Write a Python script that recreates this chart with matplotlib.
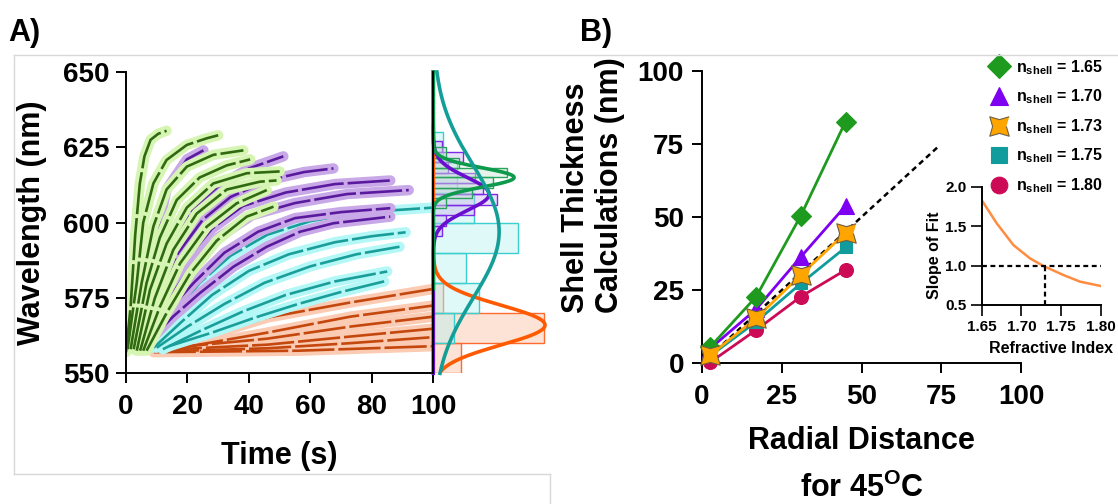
import numpy as np
import matplotlib.pyplot as plt
from matplotlib.lines import Line2D
from matplotlib.path import Path

plt.rcParams['font.family'] = ['Liberation Sans', 'DejaVu Sans']
plt.rcParams['font.weight'] = 'bold'
plt.rcParams['axes.labelweight'] = 'bold'
plt.rcParams['mathtext.fontset'] = 'custom'
plt.rcParams['mathtext.rm'] = 'Liberation Sans:bold'
plt.rcParams['mathtext.bf'] = 'Liberation Sans:bold'
plt.rcParams['mathtext.it'] = 'Liberation Sans:bold'
plt.rcParams['axes.linewidth'] = 1.4

# --- panel A: peak wavelength vs time, one list per trace ---
green_t = [[0, 1.5, 3, 4.5, 6, 8, 10.5, 13.2],
           [0.5, 3.5, 5.6, 8.9, 13.2, 19.8, 26.3, 30],
           [1.5, 5.1, 8.9, 13.2, 19.8, 28.4, 38.2],
           [2.5, 6.7, 11, 16.5, 24, 32.8, 40.4],
           [3.5, 7.8, 13.2, 19.8, 28.4, 39.3, 50],
           [4.6, 9.4, 15.4, 23, 32.8, 43.6, 49],
           [5.6, 11, 17.6, 26.3, 36, 45.8],
           [6.7, 13.2, 20.8, 29.5, 39.3, 48]]
green_nm = [[557, 572, 596, 613, 622, 627.5, 629.5, 630.5],
            [558, 580, 600, 613, 620.8, 625.8, 628, 629],
            [558, 580, 598.7, 611, 618.6, 622.5, 624],
            [558, 580, 595, 607.5, 615, 619, 621],
            [557.5, 577.7, 593, 605, 613, 616.4, 617],
            [557.5, 575, 591, 603, 611, 613.6, 614],
            [557.5, 572, 586.5, 598.7, 606.4, 610.8],
            [557.5, 570, 583, 594, 602, 605.3]]

purple_t = [[4.6, 8.9, 13.2, 19.8, 25.2],
            [5, 10, 15, 22, 30, 40, 51.2],
            [5.5, 11, 17, 25, 34, 46, 58, 67.5],
            [6, 12, 19, 28, 38, 52, 68, 86],
            [6.5, 13, 20, 30, 41, 55, 72, 92],
            [7, 14, 22, 32, 43, 55, 70, 86],
            [7.8, 15.4, 24, 35, 45.8, 56.7, 67.5, 86]]
purple_nm = [[560, 591, 611, 621, 624],
             [561, 580, 594, 605, 612, 618, 622],
             [561, 577, 590, 601, 608.5, 614, 616.8, 618],
             [561, 575, 587, 598, 605.5, 610, 612.8, 614],
             [561, 573, 584, 595, 602.5, 606.5, 609.5, 610.8],
             [561, 571, 580, 590, 597, 601.5, 603.5, 604.8],
             [561, 568.9, 576.6, 585.4, 592, 597, 599.8, 602]]

cyan_t = [[8, 15, 24, 34, 46, 60, 78, 100],
          [9, 18, 28, 40, 53, 68, 80, 91],
          [10, 20, 32, 45, 60, 75, 89],
          [12, 24, 38, 52, 68, 85],
          [14, 28, 42, 56, 70, 84]]
cyan_nm = [[559, 569, 580, 589, 596, 600.5, 603.5, 605],
           [558.5, 567, 576, 584, 589.5, 593.5, 595.5, 596.8],
           [558.5, 565.5, 573, 580, 585.5, 589.5, 592],
           [558, 564, 570.5, 576, 580.5, 583.8],
           [559, 563.5, 568.5, 573, 577, 580.5]]

orange_t = [[16, 30, 46, 73, 100],
            [18, 46, 73, 100],
            [13, 46, 73, 100],
            [11, 46, 73, 100],
            [10, 46, 73, 100],
            [9, 56, 100]]
orange_nm = [[559, 563.5, 568.5, 573.5, 578],
             [558.5, 563.5, 568.8, 572.5],
             [558.3, 561.5, 565.5, 568.8],
             [557.7, 559.5, 562.2, 564.8],
             [557.2, 558.3, 560, 562],
             [557, 557.5, 559]]

# side histograms of final wavelength
teal_edges = [560, 570, 580, 590, 600, 610, 620, 630]
teal_freq = [21, 46, 33, 85, 41, 24, 10]
orange_edges = [550, 560, 570, 580]
orange_freq = [28, 111, 10]
purple_edges = [595.5, 599, 602.5, 606, 609.5, 613, 616.5, 620, 623.5, 627]
purple_freq = [9, 13, 41, 64, 50, 42, 15, 30, 9]
green_edges = [605, 608.3, 611.6, 615, 618.3, 621.6, 625]
green_freq = [13, 39, 60, 74, 26, 13]

# gaussian fits to the histograms: centre, width, height, drawn range
fit_names = ['purple', 'orange', 'green', 'teal']
fit_mu = [609.5, 566, 615, 597]
fit_sd = [5.5, 6.6, 3.2, 22]
fit_peak = [56, 112, 81, 66]
fit_lo = [550, 551, 578, 550]
fit_hi = [650, 632, 650, 650]

# --- panel B: shell thickness vs radial distance ---
radial = [2.5, 17, 31, 45]
thick_165 = [5.5, 22.8, 50.5, 82.6]
thick_170 = [5.0, 18.5, 36.4, 53.8]
thick_173 = [2.8, 15.4, 30.2, 44.6]
thick_175 = [2.5, 14.2, 27.3, 39.6]
thick_180 = [0.3, 11.4, 22.8, 31.9]
ref_x = [0, 74]
ref_y = [0, 74]

# inset: slope of the fit vs shell refractive index
ref_index = [1.65, 1.669, 1.69, 1.711, 1.728, 1.753, 1.774, 1.80]
fit_slope = [1.83, 1.535, 1.26, 1.09, 0.994, 0.88, 0.796, 0.741]
best_index = 1.73
unit_slope = 1.0

W, H = 1118, 504
fig = plt.figure(figsize=(W / 100, H / 100), dpi=100)

def box(x0, y0, x1, y1):
    # pixel box (top-left / bottom-right) -> figure fraction rect
    return [x0 / W, 1 - y1 / H, (x1 - x0) / W, (y1 - y0) / H]

# light frame lines around panel A
for xs, ys in [([14, W], [55, 55]), ([14, 14], [55, 474]),
               ([14, 550], [474, 474]), ([550, 550], [474, H])]:
    fig.add_artist(Line2D([x / W for x in xs], [1 - y / H for y in ys],
                          color='#d8d8d8', lw=1.0))

# ---------------- panel A ----------------
axA = fig.add_axes(box(126, 72, 433.3, 373.3))
families = [(orange_t, orange_nm, '#fbcbb3', '#c4470e'),
            (cyan_t, cyan_nm, '#b3f7f7', '#1a9e99'),
            (purple_t, purple_nm, '#c9a8e8', '#5a1a9e'),
            (green_t, green_nm, '#d6f5b3', '#2f6a10')]
for ts, nms, halo, dark in families:
    for t, nm in zip(ts, nms):
        axA.plot(t, nm, color=halo, lw=7.5, solid_capstyle='round',
                 solid_joinstyle='round')
    for t, nm in zip(ts, nms):
        axA.plot(t, nm, color=dark, lw=1.9, ls=(0, (16, 1.5)))
axA.set_xlim(0, 100)
axA.set_ylim(550, 650)
axA.set_xticks([0, 20, 40, 60, 80, 100])
axA.set_yticks([550, 575, 600, 625, 650])
axA.spines[['top', 'right']].set_visible(False)
axA.tick_params(direction='out', length=7, width=1.4, labelsize=20)
axA.tick_params(axis='x', pad=8)
axA.tick_params(axis='y', pad=5)
axA.set_xlabel('Time (s)', fontsize=22)
axA.xaxis.label.set_va('center')
axA.xaxis.set_label_coords(0.5, -0.275)
axA.set_ylabel('Wavelength (nm)', fontsize=22)
axA.yaxis.label.set_va('center')
axA.yaxis.set_label_coords(-0.307, 0.5)

# side histogram
axH = fig.add_axes(box(433.3, 72, 551, 373.3))
axH.patch.set_alpha(0)
axH.barh(orange_edges[:-1], orange_freq, height=np.diff(orange_edges), align='edge',
         facecolor=(0.99, 0.80, 0.70, 0.55), edgecolor='#ff6a30', lw=1.0)
axH.plot(fit_peak[1] * np.exp(-0.5 * ((np.linspace(fit_lo[1], fit_hi[1], 300) - fit_mu[1]) / fit_sd[1]) ** 2),
         np.linspace(fit_lo[1], fit_hi[1], 300), color='#ff5a00', lw=2.6, clip_on=False)
axH.barh(teal_edges[:-1], teal_freq, height=np.diff(teal_edges), align='edge',
         facecolor=(0.72, 0.94, 0.94, 0.45), edgecolor='#3ccfcf', lw=1.0)
axH.barh(purple_edges[:-1], purple_freq, height=np.diff(purple_edges), align='edge',
         facecolor=(0.80, 0.72, 0.94, 0.45), edgecolor='#7d2ae8', lw=1.0)
axH.barh(green_edges[:-1], green_freq, height=np.diff(green_edges), align='edge',
         facecolor=(0.78, 0.91, 0.82, 0.45), edgecolor='#2ca25f', lw=1.0)
fit_colors = {'purple': '#6a0fd0', 'green': '#0e9a4c', 'teal': '#139e98'}
for i in [0, 2, 3]:
    yy = np.linspace(fit_lo[i], fit_hi[i], 300)
    xx = fit_peak[i] * np.exp(-0.5 * ((yy - fit_mu[i]) / fit_sd[i]) ** 2)
    axH.plot(xx, yy, color=fit_colors[fit_names[i]], lw=2.6, clip_on=False)
axH.set_xlim(0, 118)
axH.set_ylim(550, 650)
axH.set_xticks([])
axH.set_yticks([])
axH.spines[['top', 'right', 'bottom']].set_visible(False)

fig.text(8 / W, 1 - 33 / H, 'A)', fontsize=22, va='center', ha='left')
fig.text(580 / W, 1 - 33 / H, 'B)', fontsize=22, va='center', ha='left')

# ---------------- panel B ----------------
axB = fig.add_axes(box(702, 70.7, 1021, 363.3))
# four-pointed star with concave sides
star = np.arange(8) * np.pi / 4 + np.pi / 4
rad = np.tile([1.0, 0.5], 4)
star_marker = Path(np.column_stack([rad * np.cos(star), rad * np.sin(star)]))

axB.plot(ref_x, ref_y, color='black', lw=1.8, ls=(0, (2.2, 1.6)), zorder=2)
series = [(thick_180, '#cc0a55', 'o', 10, '#cc0a55', 3, '1.80'),
          (thick_175, '#109c9c', 's', 9, '#109c9c', 4, '1.75'),
          (thick_170, '#7f00f0', '^', 11, '#7f00f0', 5, '1.70'),
          (thick_165, '#1e9b1e', 'D', 10, '#1e9b1e', 6, '1.65'),
          (thick_173, '#ffa500', star_marker, 14, '#6f6040', 7, '1.73')]
handles = {}
for vals, col, mk, ms, mec, z, lab in series:
    axB.plot(radial, vals, color=col, lw=2.0, marker=mk, ms=ms, mfc=col, mec=mec,
             mew=0.8, clip_on=False, zorder=z)
    hs = ms if lab == '1.73' else ms + 2
    handles[lab] = Line2D([], [], ls='none', marker=mk, ms=hs, mfc=col, mec=mec, mew=0.8)
axB.set_xlim(0, 100)
axB.set_ylim(0, 100)
axB.set_xticks([0, 25, 50, 75, 100])
axB.set_yticks([0, 25, 50, 75, 100])
axB.spines[['top', 'right']].set_visible(False)
axB.tick_params(direction='out', length=7, width=1.4, labelsize=20)
axB.tick_params(axis='x', pad=8)
axB.tick_params(axis='y', pad=6)
axB.set_ylabel('Shell Thickness\nCalculations (nm)', fontsize=22, multialignment='left')
axB.yaxis.label.set_va('center')
axB.yaxis.set_label_coords(-0.342, 0.609)
fig.text(861.5 / W, 1 - 441 / H, 'Radial Distance', fontsize=22, ha='center', va='center')
fig.text(861.5 / W, 1 - 488 / H, r'for 45$^{\mathbf{O}}$C', fontsize=22, ha='center', va='center')

order = ['1.65', '1.70', '1.73', '1.75', '1.80']
axB.legend([handles[k] for k in order],
           [r'$\mathbf{n_{shell}}$ = ' + k for k in order],
           loc='upper left', bbox_to_anchor=(989 / W, 1 - 58 / H),
           bbox_transform=fig.transFigure, frameon=False, fontsize=11.5,
           handlelength=1.2, handletextpad=0.5, labelspacing=0.68,
           borderpad=0, borderaxespad=0)

# inset
axI = fig.add_axes(box(981.7, 186.7, 1100.7, 305))
axI.patch.set_alpha(0)
axI.plot(ref_index, fit_slope, color='#ff8c40', lw=1.8)
axI.axhline(unit_slope, color='black', lw=1.6, ls=(0, (2.2, 1.6)))
axI.plot([best_index, best_index], [0.5, unit_slope], color='black', lw=1.6, ls=(0, (2.2, 1.6)))
axI.set_xlim(1.65, 1.80)
axI.set_ylim(0.5, 2.0)
axI.set_xticks([1.65, 1.70, 1.75, 1.80])
axI.set_yticks([0.5, 1.0, 1.5, 2.0])
axI.xaxis.set_major_formatter('{x:.2f}')
axI.yaxis.set_major_formatter('{x:.1f}')
axI.spines[['top', 'right']].set_visible(False)
axI.tick_params(direction='out', length=8, width=1.2, labelsize=11, pad=3)
axI.set_xlabel('Refractive Index', fontsize=11.5)
axI.xaxis.label.set_va('center')
axI.xaxis.set_label_coords(0.58, -0.37)
axI.set_ylabel('Slope of Fit', fontsize=11.5)
axI.yaxis.label.set_va('center')
axI.yaxis.set_label_coords(-0.40, 0.42)

fig.savefig('out.png', dpi=100)
